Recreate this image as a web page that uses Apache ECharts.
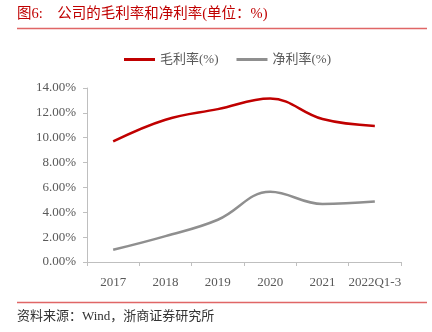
<!DOCTYPE html>
<html><head><meta charset="utf-8">
<script src="https://cdn.jsdelivr.net/npm/echarts@6/dist/echarts.min.js"></script>
<style>html,body{margin:0;padding:0;background:#fff}#c{width:432px;height:332px}</style>
</head><body><div id="c"></div>
<script>
const categories = ['2017','2018','2019','2020','2021','2022Q1-3'];
const grossMargin = [9.7, 11.45, 12.3, 13.15, 11.5, 10.95];
const netMargin = [0.98, 2.08, 3.4, 5.65, 4.67, 4.87];
const yTicks = [0, 2, 4, 6, 8, 10, 12, 14];
const seriesNames = ['毛利率(%)', '净利率(%)'];
const titleText = '图6:    公司的毛利率和净利率(单位：%)';
const sourceText = '资料来源：Wind，浙商证券研究所';

const FONT = '"Liberation Serif", "Noto Sans CJK SC", serif';
const chart = echarts.init(document.getElementById('c'), null, {renderer: 'canvas'});
chart.setOption({
  animation: false,
  backgroundColor: '#fff',
  grid: {left: 87, right: 31, top: 88, bottom: 70, containLabel: false},
  legend: {
    left: 124, top: 53, padding: 0,
    itemWidth: 31, itemHeight: 3, itemGap: 18,
    icon: 'rect',
    textStyle: {fontFamily: FONT, fontSize: 13, color: '#595959'},
    data: seriesNames
  },
  xAxis: {
    type: 'category', data: categories, boundaryGap: true,
    axisLine: {lineStyle: {color: '#BFBFBF', width: 1}},
    axisTick: {show: true, length: 4, lineStyle: {color: '#BFBFBF'}},
    axisLabel: {fontFamily: FONT, fontSize: 13, color: '#595959', margin: 14, interval: 0}
  },
  yAxis: {
    type: 'value', min: 0, max: 14, interval: 2,
    axisLine: {show: true, lineStyle: {color: '#BFBFBF', width: 1}},
    axisTick: {show: true, length: 4, lineStyle: {color: '#BFBFBF'}},
    splitLine: {show: false},
    axisLabel: {fontFamily: FONT, fontSize: 13, color: '#595959', margin: 11,
      formatter: v => yTicks.includes(v) ? v.toFixed(2) + '%' : ''}
  },
  series: [
    {name: seriesNames[0], type: 'line', data: grossMargin, smooth: 0.4, symbol: 'none',
     lineStyle: {color: '#C00000', width: 2.5}, itemStyle: {color: '#C00000'}},
    {name: seriesNames[1], type: 'line', data: netMargin, smooth: 0.4, symbol: 'none',
     lineStyle: {color: '#8F8F8F', width: 2.5}, itemStyle: {color: '#8F8F8F'}}
  ],
  graphic: [
    {type: 'text', left: 17, top: 7, style: {text: titleText, font: '14.5px ' + FONT, fill: '#C00000'}},
    {type: 'line', shape: {x1: 17, y1: 28.5, x2: 427, y2: 28.5}, style: {stroke: '#E06666', lineWidth: 1.5}},
    {type: 'line', shape: {x1: 17, y1: 302.5, x2: 427, y2: 302.5}, style: {stroke: '#E06666', lineWidth: 1.5}},
    {type: 'text', left: 17, top: 310, style: {text: sourceText, font: '13px ' + FONT, fill: '#333'}}
  ]
});
</script></body></html>
